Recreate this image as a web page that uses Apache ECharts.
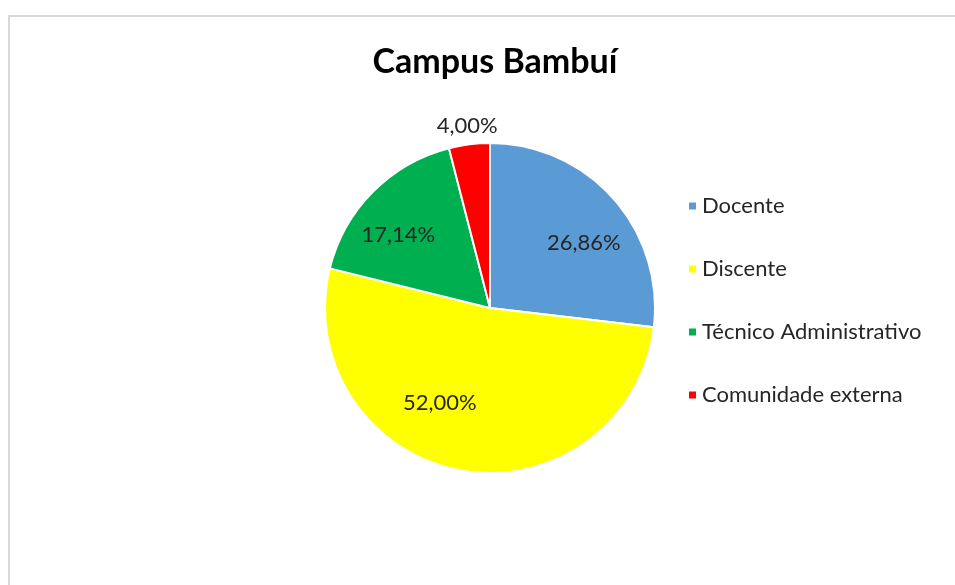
<!DOCTYPE html>
<html>
<head>
<meta charset="utf-8">
<script src="https://cdn.jsdelivr.net/npm/echarts@6/dist/echarts.min.js"></script>
<style>
  html, body { margin: 0; padding: 0; background: #fff; }
  #chart { position: absolute; left: 0; top: 0; width: 955px; height: 585px; }
  #frame {
    position: absolute; left: 8px; top: 15px; width: 1000px; height: 700px;
    border: 2px solid #d9d9d9; pointer-events: none;
  }
</style>
</head>
<body>
<div id="chart"></div>
<div id="frame"></div>
<script>
const title = 'Campus Bambuí';
const categories = ['Docente', 'Discente', 'Técnico Administrativo', 'Comunidade externa'];
const values = [26.86, 52.00, 17.14, 4.00];
const colors = ['#5b9bd5', '#ffff00', '#00b050', '#ff0000'];

// label nudges to mimic Excel's best-fit placement
const labelOffsets = [[30, -8], [-35, 11], [-31, -13], [-12, -97]];

const chart = echarts.init(document.getElementById('chart'));

const font = 'Lato, "Open Sans", sans-serif';

chart.setOption({
  backgroundColor: '#fff',
  animation: false,
  color: colors,
  title: {
    text: title,
    left: 490,
    top: 40,
    textAlign: 'center',
    textStyle: { fontFamily: font, fontWeight: 'bold', fontSize: 34, color: '#000' }
  },
  legend: {
    orient: 'vertical',
    left: 682,
    top: 190,
    itemWidth: 9,
    itemHeight: 9,
    itemGap: 41,
    icon: 'rect',
    data: categories,
    textStyle: { fontFamily: font, fontSize: 22, color: '#262626', lineHeight: 22 }
  },
  series: [{
    type: 'pie',
    center: [490, 308],
    radius: 165,
    startAngle: 90,
    clockwise: true,
    avoidLabelOverlap: false,
    itemStyle: { borderColor: '#fff', borderWidth: 2 },
    label: {
      show: true,
      position: 'inside',
      fontFamily: font,
      fontSize: 22,
      color: '#262626',
      formatter: p => p.value.toFixed(2).replace('.', ',') + '%'
    },
    labelLine: { show: false },
    emphasis: { disabled: true },
    data: categories.map((name, i) => ({
      name,
      value: values[i],
      label: { offset: labelOffsets[i] }
    }))
  }]
});
</script>
</body>
</html>
